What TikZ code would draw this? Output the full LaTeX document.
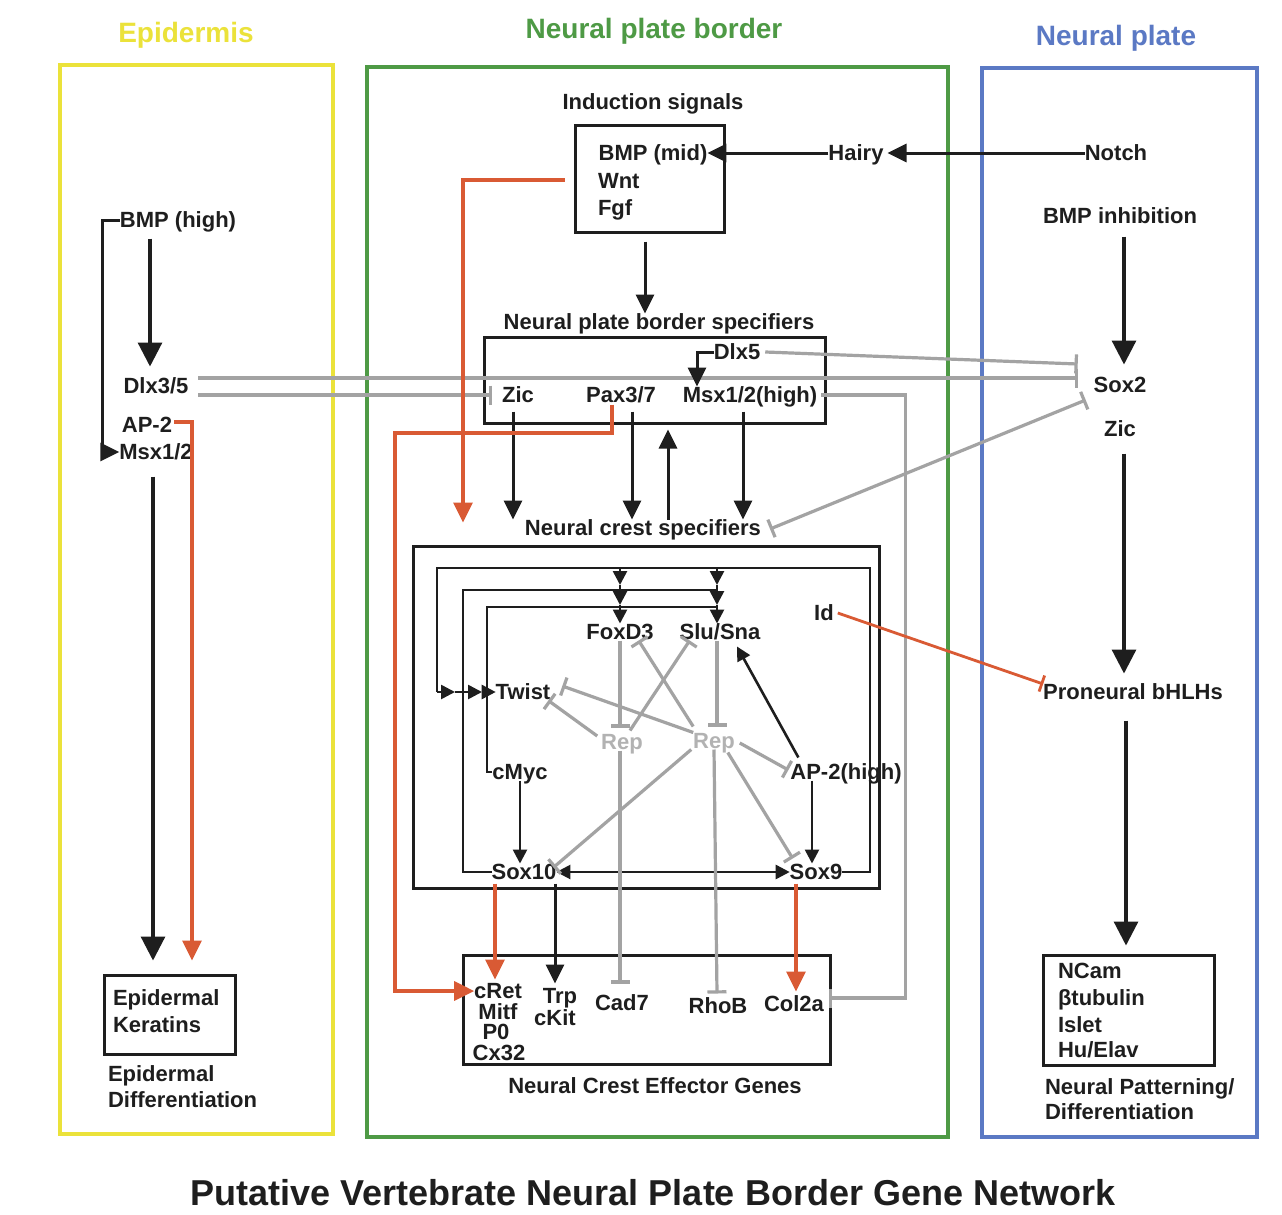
\documentclass[tikz,border=0pt]{standalone}
\usepackage{fontspec}
\setmainfont{Liberation Sans}
\usetikzlibrary{arrows.meta,calc}
\definecolor{epiY}{HTML}{EBE23A}
\definecolor{npbG}{HTML}{4E9A45}
\definecolor{npB}{HTML}{5B79C4}
\definecolor{actR}{HTML}{D95A34}
\definecolor{inhG}{HTML}{A3A3A3}
\definecolor{repG}{HTML}{B2B2B2}
\definecolor{ink}{HTML}{1E1E1E}
\begin{document}
\begin{tikzpicture}[x=1pt,y=-1pt,
  g/.style={font=\fontsize{22}{26}\selectfont\bfseries, text=ink, inner sep=0pt, outer sep=0pt, text height=16pt, text depth=1pt},
  rep/.style={g, text=repG},
  head/.style={font=\fontsize{28}{32}\selectfont\bfseries, inner sep=0pt},
  panel/.style={draw, line width=4.5pt, inner sep=0pt},
  gbox/.style={draw=ink, line width=3pt, inner sep=0pt},
  big/.style={color=ink, line width=3.2pt, -{Triangle[length=24pt,width=24pt]}},
  mid/.style={color=ink, line width=3pt, -{Triangle[length=19pt,width=18pt]}},
  sml/.style={color=ink, line width=2.6pt, -{Triangle[length=14pt,width=14pt]}},
  lnk/.style={color=ink, line width=2.6pt},
  inh/.style={color=inhG, line width=3.2pt, -{Bar[width=19pt]}},
  act/.style={color=actR, line width=3.2pt, -{Triangle[length=20pt,width=19pt]}},
]
\useasboundingbox[fill=white] (0,0) rectangle (1282,1215);

% ---------- tissue panels ----------
\node[panel, draw=epiY, minimum width=273pt, minimum height=1069pt] (pEpi) at (196.5,599.5) {};
\node[panel, draw=npbG, minimum width=581pt, minimum height=1070pt] (pNpb) at (657.5,602) {};
\node[panel, draw=npB, minimum width=275pt, minimum height=1069pt] (pNp) at (1119.5,602.5) {};
\node[head, text=epiY] (tEpi) at (186,35) {Epidermis};
\node[head, text=npbG] (tNpb) at (654,31) {Neural plate border};
\node[head, text=npB] (tNp) at (1116,38) {Neural plate};
\node[font=\fontsize{36}{40}\selectfont\bfseries, text=ink, inner sep=0pt] (ttl) at (653,1193) {Putative Vertebrate Neural Plate Border Gene Network};

% ---------- gene boxes ----------
\node[gbox, minimum width=131pt, minimum height=79pt] (kerBox) at (169.5,1014.5) {};
\node[gbox, minimum width=149pt, minimum height=107pt] (indBox) at (649.5,178.5) {};
\node[gbox, minimum width=341pt, minimum height=86pt] (npbBox) at (654.5,380) {};
\node[gbox, minimum width=466pt, minimum height=342pt] (ncsBox) at (646,717) {};
\node[gbox, minimum width=367pt, minimum height=109pt] (effBox) at (646.5,1009.5) {};
\node[gbox, minimum width=171pt, minimum height=110pt] (npBox) at (1128.5,1010) {};

% ---------- epidermis ----------
\node[g] (bmpH) at (178,220) {BMP (high)};
\node[g] (dlx35) at (156,386) {Dlx3/5};
\node[g] (ap2) at (147,425) {AP-2};
\node[g] (msx12) at (156,452) {Msx1/2};
\node[g, anchor=west] (kerA) at (113,998) {Epidermal};
\node[g, anchor=west] (kerB) at (113,1025) {Keratins};
\node[g, anchor=west] (edA) at (108,1074) {Epidermal};
\node[g, anchor=west] (edB) at (108,1100) {Differentiation};

% ---------- neural plate border ----------
\node[g] (indT) at (653,102) {Induction signals};
\node[g] (bmpMid) at (653,153) {BMP (mid)};
\node[g, anchor=west] (wnt) at (598,181) {Wnt};
\node[g, anchor=west] (fgf) at (598,208) {Fgf};
\node[g] (hairy) at (856,153) {Hairy};
\node[g] (npbT) at (659,322) {Neural plate border specifiers};
\node[g] (dlx5) at (737,352) {Dlx5};
\node[g] (zic1) at (518,395) {Zic};
\node[g] (pax) at (621,395) {Pax3/7};
\node[g] (msxH) at (750,395) {Msx1/2(high)};
\node[g] (ncs) at (643,528) {Neural crest specifiers};
\node[g] (foxd3) at (620,632) {FoxD3};
\node[g] (slu) at (720,632) {Slu/Sna};
\node[g] (idg) at (824,613) {Id};
\node[g] (twist) at (523,692) {Twist};
\node[rep] (repL) at (622,742) {Rep};
\node[rep] (repR) at (714,741) {Rep};
\node[g] (cmyc) at (520,772) {cMyc};
\node[g] (ap2h) at (846,772) {AP-2(high)};
\node[g] (sox10) at (524,872) {Sox10};
\node[g] (sox9) at (816,872) {Sox9};
\node[g] (cret) at (498,991) {cRet};
\node[g] (mitf) at (498,1012) {Mitf};
\node[g] (p0) at (496,1032) {P0};
\node[g] (cx32) at (499,1053) {Cx32};
\node[g] (trp) at (560,996) {Trp};
\node[g] (ckit) at (555,1018) {cKit};
\node[g] (cad7) at (622,1003) {Cad7};
\node[g] (rhob) at (718,1006) {RhoB};
\node[g] (col2a) at (794,1004) {Col2a};
\node[g] (effT) at (655,1086) {Neural Crest Effector Genes};

% ---------- neural plate ----------
\node[g] (notch) at (1116,153) {Notch};
\node[g] (bmpInh) at (1120,216) {BMP inhibition};
\node[g] (sox2) at (1120,385) {Sox2};
\node[g] (zic2) at (1120,429) {Zic};
\node[g] (prn) at (1133,692) {Proneural bHLHs};
\node[g, anchor=west] (ncam) at (1058,971) {NCam};
\node[g, anchor=west] (btub) at (1058,998) {βtubulin};
\node[g, anchor=west] (islet) at (1058,1025) {Islet};
\node[g, anchor=west] (huel) at (1058,1050) {Hu/Elav};
\node[g, anchor=west] (ndA) at (1045,1087) {Neural Patterning/};
\node[g, anchor=west] (ndB) at (1045,1112) {Differentiation};

% ---------- epidermis connectors ----------
\draw[mid] (bmpH.west) -- ++(-17,0) |- (msx12.west);
\draw[big] ([xshift=-28pt,yshift=-10pt]bmpH.south) -- ([xshift=-6pt,yshift=11pt]dlx35.north);
\draw[big] ([xshift=-3pt,yshift=-16pt]msx12.south) -- ([xshift=-16.5pt,yshift=13pt]kerBox.north);
\draw[act] ([xshift=2pt,yshift=3pt]ap2.east) -| ([xshift=22.5pt,yshift=13pt]kerBox.north);

% ---------- gray repressions across the border ----------
\draw[inh] ([xshift=10pt,yshift=8pt]dlx35.east) -- ([xshift=-16pt,yshift=7pt]sox2.west);
\draw[inh] ([xshift=10pt,yshift=-9pt]dlx35.east) -- ([xshift=-10pt]zic1.west);
\draw[inh] ([xshift=5pt]dlx5.east) -- ([xshift=-16pt,yshift=21pt]sox2.west);
\draw[inh, {Bar[width=19pt]}-{Bar[width=19pt]}] ([xshift=9pt,yshift=-1pt]ncs.east) -- ([xshift=-8pt,yshift=-15pt]sox2.west);
\draw[inh] ([xshift=4pt]msxH.east) -- ([xshift=88pt]msxH.east) |- ([xshift=5pt,yshift=6pt]col2a.east);

% ---------- induction and border specifiers ----------
\draw[mid] (notch.west) -- ([xshift=4pt]hairy.east);
\draw[mid] (hairy.west) -- (bmpMid.east);
\draw[mid] ([xshift=-4.5pt,yshift=-8pt]indBox.south) -- ([xshift=-14pt]npbT.north);
\draw[act] ([xshift=-9pt,yshift=-1.5pt]indBox.west) -| ([xshift=-180pt,yshift=-3pt]ncs.north);
\draw[mid] (dlx5.west) -| ([xshift=-53pt]msxH.north);
\draw[mid] ([xshift=-5pt,yshift=-8pt]zic1.south) -- ([xshift=-5pt]zic1.south |- ncs.north);
\draw[mid] ([xshift=11pt,yshift=-8pt]pax.south) -- ([xshift=11pt]pax.south |- ncs.north);
\draw[mid] ([xshift=25pt]ncs.north) -- ([xshift=25pt,yshift=-5pt]ncs.north |- npbBox.south);
\draw[mid] ([xshift=-7pt,yshift=-8pt]msxH.south) -- ([xshift=-7pt]msxH.south |- ncs.north);
\draw[act] ([xshift=-9pt,yshift=-1pt]pax.south) |- (395,433) |- (cret.west);

% ---------- neural crest specifier circuit ----------
\draw[lnk] (sox9.east) -| (870,568) -| (437,692);
\draw[lnk] (sox10.west) -| (463,590) -- (717,590);
\draw[lnk] (cmyc.west) -| (487,607) -- (717,607);
\draw[sml] (437,692) -- (455,692);
\draw[sml] (455,692) -- (482,692);
\draw[sml] (482,692) -- (twist.west);
\draw[sml] (620,568) -- (620,585);
\draw[sml] (620,585) -- (620,605);
\draw[sml] (620,605) -- (foxd3.north);
\draw[sml] (717,568) -- (717,585);
\draw[sml] (717,585) -- (717,605);
\draw[sml] (717,605) -- ([xshift=-3pt]slu.north);
\draw[sml, {Triangle[length=14pt,width=14pt]}-{Triangle[length=14pt,width=14pt]}] (sox10.east) -- (sox9.west);
\draw[sml] (cmyc.south) -- (cmyc.south |- sox10.north);
\draw[sml] ([xshift=-4pt]sox9.north |- ap2h.south) -- ([xshift=-4pt]sox9.north);
\draw[sml] ([xshift=8pt,yshift=6pt]ap2h.north west) -- ([xshift=17pt,yshift=-6pt]slu.south);

% gray repressor links
\draw[inh] (foxd3.south) -- ([yshift=6pt]foxd3.south |- repL.north);
\draw[inh] ([xshift=-3pt]slu.south) -- ([xshift=-3pt,yshift=6pt]slu.south |- repR.north);
\draw[inh] ([xshift=-2pt]repL.south) -- ([xshift=-2pt,yshift=11pt]cad7.north);
\draw[inh] (repR.south) -- ([xshift=-1pt,yshift=4pt]rhob.north);
\draw[inh] ([xshift=-4pt,yshift=6pt]repL.west) -- ([xshift=-2pt]twist.south east);
\draw[inh] (repR.north west) -- ([xshift=12pt,yshift=6pt]twist.east);
\draw[inh] ([xshift=8pt,yshift=3pt]repL.north) -- ([xshift=10pt]slu.south west);
\draw[inh] ([yshift=6pt]repR.north west) -- ([xshift=-15pt]foxd3.south east);
\draw[inh] ([xshift=5pt,yshift=-2pt]repR.east) -- ([xshift=-2pt,yshift=2pt]ap2h.west);
\draw[inh] ([xshift=-2pt]repR.south west) -- ([xshift=-3pt,yshift=-4pt]sox10.north east);
\draw[inh] ([xshift=-7pt,yshift=-3pt]repR.south east) -- ([xshift=3pt,yshift=5pt]sox9.north west);

% effector outputs
\draw[act] ([xshift=-29pt,yshift=-3pt]sox10.south) -- ([xshift=-3pt,yshift=3pt]cret.north);
\draw[mid] ([xshift=31pt,yshift=-3pt]sox10.south) -- ([xshift=-5pt,yshift=4pt]trp.north);
\draw[act] ([xshift=-20pt,yshift=-3pt]sox9.south) -- ([xshift=2pt,yshift=4pt]col2a.north);

% Id represses proneural genes
\draw[color=actR, line width=2.8pt, -{Bar[width=17pt]}] ([xshift=4pt]idg.east) -- ([yshift=8pt]prn.west);

% ---------- neural plate connectors ----------
\draw[big] ([xshift=4pt,yshift=-12pt]bmpInh.south) -- ([xshift=4pt,yshift=12pt]sox2.north);
\draw[big] ([xshift=4pt,yshift=-16pt]zic2.south) -- ([xshift=-9pt,yshift=10pt]prn.north);
\draw[big] ([xshift=-7pt,yshift=-20pt]prn.south) -- ([xshift=-2.5pt,yshift=8pt]npBox.north);
\end{tikzpicture}
\end{document}
